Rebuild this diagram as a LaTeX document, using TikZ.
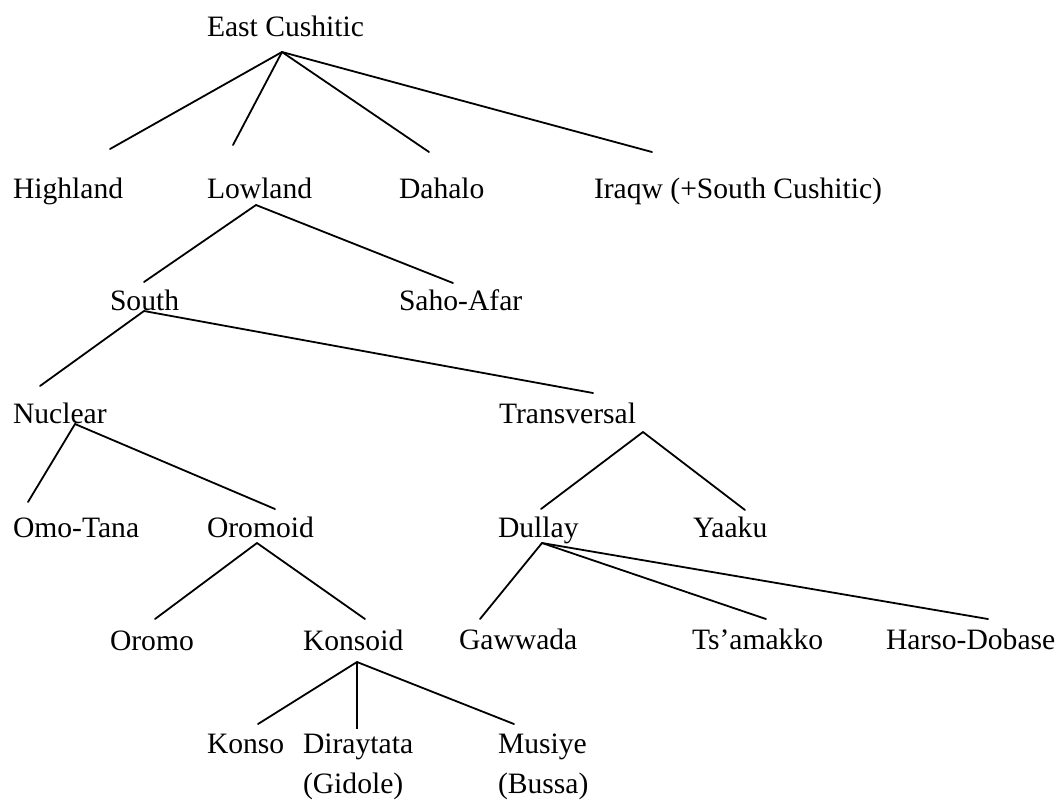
\documentclass[tikz,border=0pt]{standalone}
\usepackage{fontspec}
\setmainfont{Liberation Serif}
\usetikzlibrary{positioning}

\begin{document}
\begin{tikzpicture}[
    x=0.5pt, y=-0.5pt,
    lang/.style={anchor=base west, inner sep=0pt, outer sep=0pt, align=left, font=\fontsize{14.8}{20}\selectfont},
    branch/.style={line width=0.9pt, line cap=round},
    trunk/.style={line width=1.3pt}
]
\useasboundingbox (0,0) rectangle (1059,805);

% Languages (two-line nodes sit on the baseline of their last line)
\node[lang] (ec) at (207,36) {East Cushitic};
\node[lang] (hi) at (13,198) {Highland};
\node[lang] (lo) at (207,198) {Lowland};
\node[lang] (da) at (399,198) {Dahalo};
\node[lang] (iq) at (594,198) {Iraqw (+South Cushitic)};
\node[lang] (so) at (110,310) {South};
\node[lang] (sa) at (399,310) {Saho-Afar};
\node[lang] (nu) at (13,423) {Nuclear};
\node[lang] (tr) at (499,423) {Transversal};
\node[lang] (ot) at (13,537) {Omo-Tana};
\node[lang] (od) at (207,537) {Oromoid};
\node[lang] (du) at (498,537) {Dullay};
\node[lang] (ya) at (693,537) {Yaaku};
\node[lang] (or) at (110,650) {Oromo};
\node[lang] (ks) at (303,650) {Konsoid};
\node[lang] (gw) at (459,649) {Gawwada};
\node[lang] (ts) at (692,649) {Ts’amakko};
\node[lang] (hd) at (886,649) {Harso-Dobase};
\node[lang] (ko) at (207,753) {Konso};
\node[lang] (di) at (303,793) {Diraytata\\(Gidole)};
\node[lang] (mu) at (498,793) {Musiye\\(Bussa)};

% Branch points under each parent
\coordinate (ec-a) at (282,52);
\coordinate (lo-a) at (256,205);
\coordinate (so-a) at (144,311);
\coordinate (nu-a) at (75,424);
\coordinate (tr-a) at (643,432);
\coordinate (od-a) at (257,543);
\coordinate (du-a) at (542,543);
\coordinate (ks-a) at (357,662);

% Line ends above each child
\coordinate (hi-t) at (110,149);
\coordinate (lo-t) at (233,145);
\coordinate (da-t) at (429,152);
\coordinate (iq-t) at (652,152);
\coordinate (so-t) at (144,282);
\coordinate (sa-t) at (453,283);
\coordinate (nu-t) at (40,386);
\coordinate (tr-t) at (593,393);
\coordinate (ot-t) at (28,502);
\coordinate (od-t) at (275,509);
\coordinate (du-t) at (541,509);
\coordinate (ya-t) at (745,510);
\coordinate (or-t) at (155,619);
\coordinate (ks-t) at (365,619);
\coordinate (gw-t) at (480,619);
\coordinate (ts-t) at (766,619);
\coordinate (hd-t) at (988,619);
\coordinate (ko-t) at (258,724);
\coordinate (di-t) at (357,729);
\coordinate (mu-t) at (514,724);

% Branches
\draw[branch] (ec-a) -- (hi-t);
\draw[branch] (ec-a) -- (lo-t);
\draw[branch] (ec-a) -- (da-t);
\draw[branch] (ec-a) -- (iq-t);
\draw[branch] (lo-a) -- (so-t);
\draw[branch] (lo-a) -- (sa-t);
\draw[branch] (so-a) -- (nu-t);
\draw[branch] (so-a) -- (tr-t);
\draw[branch] (nu-a) -- (ot-t);
\draw[branch] (nu-a) -- (od-t);
\draw[branch] (tr-a) -- (du-t);
\draw[branch] (tr-a) -- (ya-t);
\draw[branch] (od-a) -- (or-t);
\draw[branch] (od-a) -- (ks-t);
\draw[branch] (du-a) -- (gw-t);
\draw[branch] (du-a) -- (ts-t);
\draw[branch] (du-a) -- (hd-t);
\draw[branch] (ks-a) -- (ko-t);
\draw[trunk] (ks-a) -- (di-t);
\draw[branch] (ks-a) -- (mu-t);
\end{tikzpicture}
\end{document}
